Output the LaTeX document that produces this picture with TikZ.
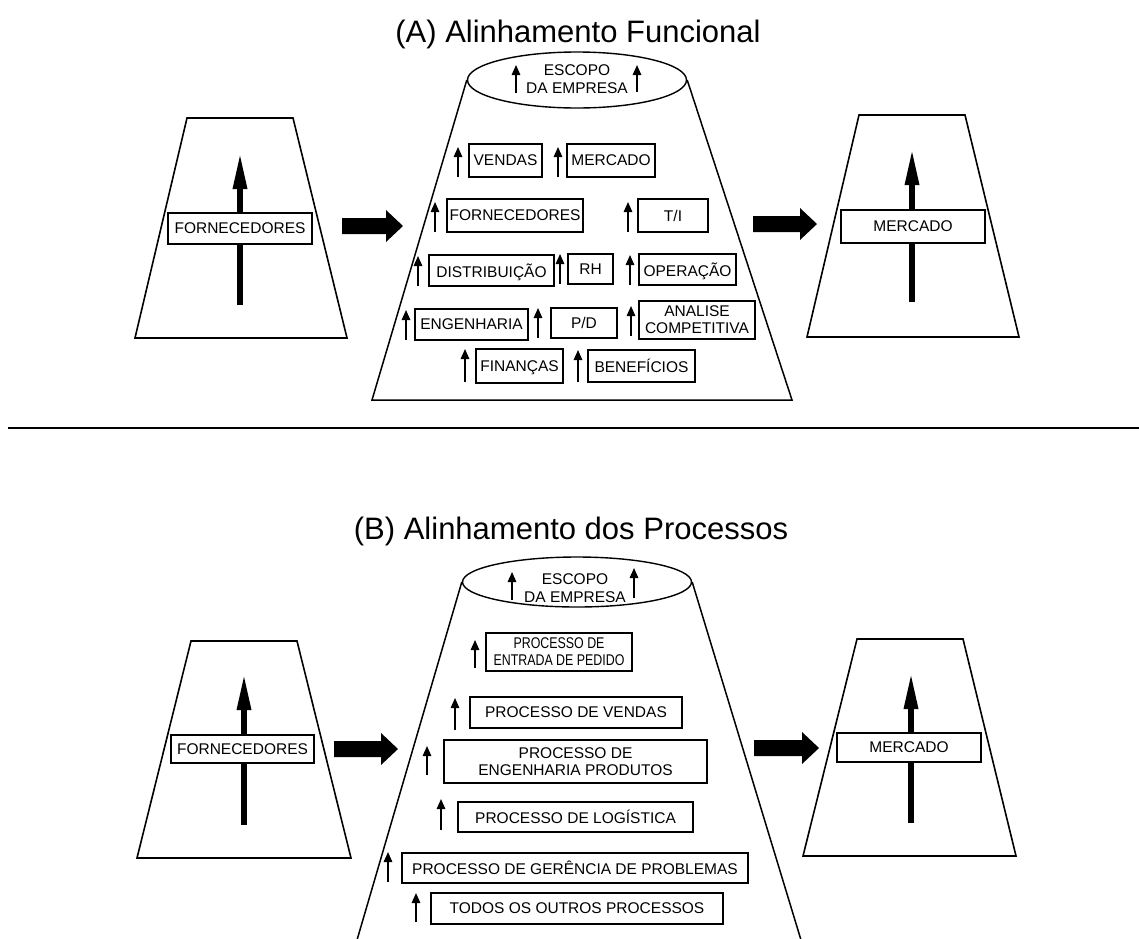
\documentclass[tikz,border=0pt]{standalone}
\usepackage{graphicx}
\usepackage{fontspec}
\setmainfont{Liberation Sans}
\usetikzlibrary{arrows.meta,shapes.geometric}

% labelled box given by its corners: [options], name, x1, y1, x2, y2, text
\newcommand{\labelbox}[7][]{%
  \node[lbl, #1, minimum width={#5-#3}, minimum height={#6-#4}] (#2) at ({(#3+#5)/2},{(#4+#6)/2}) {#7};}
% small upward arrow: x, bottom y, top y
\newcommand{\uparr}[3]{\draw[upsmall] (#1,#2) -- (#1,#3);}
% thick block arrow pointing right: x start, x tip, y
\newcommand{\blockarrow}[3]{%
  \fill (#1,#3-8) -- (#2-17,#3-8) -- (#2-17,#3-16) -- (#2,#3) -- (#2-17,#3+16) -- (#2-17,#3+8) -- (#1,#3+8) -- cycle;}
% horizontally condensed text
\newcommand{\condensed}[2]{\scalebox{#1}[1]{#2}}

\begin{document}
\begin{tikzpicture}[x=1pt,y=-1pt,
  lbl/.style={draw, line width=1.3pt, fill=white, inner sep=0pt, align=center,
              font=\fontsize{15.5}{17}\selectfont},
  nodepth/.style={text depth=0pt},
  ttl/.style={font=\fontsize{31}{36}\selectfont, inner sep=0pt, anchor=base},
  txt/.style={font=\fontsize{15.5}{18}\selectfont, inner sep=0pt, align=center},
  trap/.style={draw, line width=1.6pt, line join=miter},
  cone/.style={line width=1.5pt},
  scopeell/.style={draw, ellipse, line width=1.4pt, inner sep=0pt},
  upsmall/.style={line width=1.4pt, -{Triangle[length=10pt,width=8.5pt]}},
  upbig/.style={line width=6pt, -{Triangle[length=37pt,width=13pt]}},
  ]
\useasboundingbox (0,0) rectangle (1139,938);

% ================= (A) functional alignment =================
\node[ttl] (titleA) at (578,42) {(A) Alinhamento Funcional};

% suppliers trapezoid
\draw[trap] (187,118) -- (293,118) -- (347,338) -- (135,338) -- cycle;
\draw[upbig] (240,305) -- (240,152);
\labelbox{fornA}{168}{213}{312}{244}{FORNECEDORES}

% market trapezoid
\draw[trap] (859,115) -- (965,115) -- (1019,337) -- (807,337) -- cycle;
\draw[upbig] (912,302) -- (912,148);
\labelbox{mercA}{841}{210}{985}{243}{MERCADO}

% block arrows
\blockarrow{342}{403}{226}
\blockarrow{753}{817}{224}

% company cone
\node[scopeell, minimum width=219, minimum height=56] (scopeA) at (577,80) {};
\node[txt] (scopeAtxt) at (577,79) {ESCOPO\\DA EMPRESA};
\draw[cone] (scopeA.west) -- (372,400) -- (792,400) -- (scopeA.east);
\uparr{516}{93}{65}
\uparr{637}{92}{65}

\labelbox{vendas}{469}{144}{542}{177}{VENDAS}
\uparr{458}{177}{147}
\labelbox{mercado}{567}{144}{655}{177}{MERCADO}
\uparr{558}{177}{147}

\labelbox{fornec}{447}{199}{583}{232}{FORNECEDORES}
\uparr{435}{232}{202}
\labelbox{ti}{638}{199}{708}{232}{T/I}
\uparr{628}{232}{202}

\labelbox[nodepth]{distrib}{429}{255}{554}{286}{DISTRIBUIÇÃO}
\uparr{418}{286}{256}
\labelbox{rh}{568}{254}{613}{284}{RH}
\uparr{560}{284}{254}
\labelbox[nodepth]{operacao}{639}{254}{736}{285}{OPERAÇÃO}
\uparr{630}{285}{255}

\labelbox{engenharia}{415}{309}{528}{340}{ENGENHARIA}
\uparr{406}{340}{310}
\labelbox{pd}{551}{308}{617}{338}{P/D}
\uparr{538}{338}{308}
\labelbox{analise}{639}{301}{755}{339}{ANALISE\\COMPETITIVA}
\uparr{631}{336}{306}

\labelbox[nodepth]{financas}{476}{349}{563}{383}{FINANÇAS}
\uparr{465}{382}{349}
\labelbox{beneficios}{588}{350}{695}{382}{BENEFÍCIOS}
\uparr{578}{382}{350}

% separator
\draw[line width=2pt] (8,428) -- (1139,428);

% ================= (B) process alignment =================
\node[ttl] (titleB) at (571,539) {(B) Alinhamento dos Processos};

% suppliers trapezoid
\draw[trap] (191,641) -- (297,641) -- (351,858) -- (137,858) -- cycle;
\draw[upbig] (244,825) -- (244,673);
\labelbox{fornB}{171}{735}{314}{763}{FORNECEDORES}

% market trapezoid
\draw[trap] (857,639) -- (963,639) -- (1016,856) -- (803,856) -- cycle;
\draw[upbig] (911,823) -- (911,672);
\labelbox{mercB}{837}{733}{981}{762}{MERCADO}

% block arrows
\blockarrow{334}{398}{749}
\blockarrow{754}{819}{748}

% company cone
\node[scopeell, minimum width=229, minimum height=50] (scopeB) at (577,582) {};
\node[txt] (scopeBtxt) at (575,588) {ESCOPO\\DA EMPRESA};
\draw[cone] (scopeB.west) -- (357,940);
\draw[cone] (scopeB.east) -- (801,940);
\uparr{512}{600}{572}
\uparr{634}{598}{568}

\labelbox{pentrada}{486}{633}{632}{671}{\condensed{0.8}{PROCESSO DE}\\\condensed{0.8}{ENTRADA DE PEDIDO}}
\uparr{475}{668}{640}
\labelbox{pvendas}{470}{697}{682}{728}{PROCESSO DE VENDAS}
\uparr{455}{730}{698}
\labelbox{pengenharia}{444}{740}{707}{783}{PROCESSO DE\\ENGENHARIA PRODUTOS}
\uparr{427}{775}{746}
\labelbox{plogistica}{458}{802}{693}{832}{PROCESSO DE LOGÍSTICA}
\uparr{441}{830}{799}
\labelbox{pgerencia}{402}{853}{748}{883}{PROCESSO DE GERÊNCIA DE PROBLEMAS}
\uparr{388}{882}{852}
\labelbox{poutros}{431}{893}{723}{924}{TODOS OS OUTROS PROCESSOS}
\uparr{416}{922}{893}
\end{tikzpicture}
\end{document}
